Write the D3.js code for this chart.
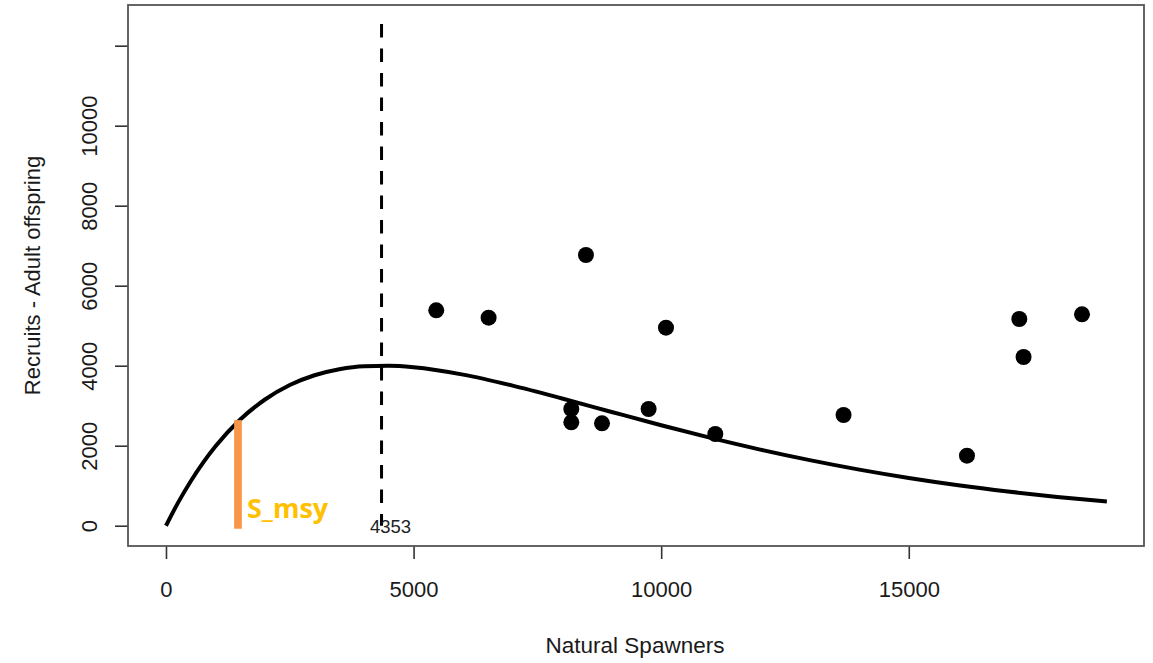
<!DOCTYPE html>
<html>
<head>
<meta charset="utf-8">
<script src="https://cdn.jsdelivr.net/npm/d3@7/dist/d3.min.js"></script>
<style>
  html, body { margin: 0; padding: 0; background: #ffffff; }
  svg { display: block; }
  text { font-family: "Liberation Sans", Arial, sans-serif; }
</style>
</head>
<body>
<svg id="chart" width="1153" height="663"></svg>
<script>
// Observed spawner / recruit pairs
const spawners = [5458, 6515, 8481, 10097, 8185, 8185, 8805, 9746, 11093, 13683, 16175, 17232, 17318, 18498];
const recruits = [5385, 5200, 6768, 4950, 2918, 2585, 2560, 2918, 2293, 2768, 1750, 5168, 4218, 5285];

// Fitted stock-recruit curve, sampled along spawner abundance
const curveSpawners = [0, 250, 500, 750, 1000, 1500, 2000, 2500, 3000, 3500, 4000, 4500, 5000, 6000, 7000,
                       8000, 9000, 10000, 11000, 12000, 13000, 14000, 15000, 16000, 17000, 18000, 19000];
const curveRecruits = [0, 590, 1113, 1577, 1985, 2655, 3155, 3517, 3762, 3913, 3987, 3998, 3961, 3777, 3502,
                       3181, 2844, 2511, 2195, 1903, 1639, 1402, 1194, 1012, 855, 719, 604];

// Reference lines
const sMax = 4353;            // spawners at maximum recruitment
const sMaxLineTop = 12540;
const sMsy = 1454;            // spawners at maximum sustainable yield
const sMsyRecruits = 2640;
const sMsyLabel = "S_msy";

// Axis ticks
const xTicks = [0, 5000, 10000, 15000];
const yTicks = [0, 2000, 4000, 6000, 8000, 10000, 12000];
const yTickLabels = ["0", "2000", "4000", "6000", "8000", "10000", ""];

const xTitle = "Natural Spawners";
const yTitle = "Recruits - Adult offspring";

// Plot region
const box = { left: 128, right: 1144, top: 5, bottom: 546 };
const textColor = "#1a1a1a";

const svg = d3.select("#chart");

const x = d3.scaleLinear().domain([-767, 19750]).range([box.left, box.right]);
const y = d3.scaleLinear().domain([-507, 13017]).range([box.bottom, box.top]);

// Bottom axis
const xAxis = d3.axisBottom(x).tickValues(xTicks).tickSize(13).tickPadding(0)
  .tickFormat(d3.format("d"));
const gx = svg.append("g").attr("transform", `translate(0,${box.bottom})`).call(xAxis);
gx.select(".domain").remove();
gx.selectAll(".tick line").attr("stroke", "#333").attr("stroke-width", 1.6);
gx.selectAll(".tick text").attr("y", 51).attr("dy", null)
  .style("font-size", "22px").style("fill", textColor);

// Left axis
const yAxis = d3.axisLeft(y).tickValues(yTicks).tickSize(13).tickPadding(0)
  .tickFormat((d, i) => yTickLabels[i]);
const gy = svg.append("g").attr("transform", `translate(${box.left},0)`).call(yAxis);
gy.select(".domain").remove();
gy.selectAll(".tick line").attr("stroke", "#333").attr("stroke-width", 1.6);
gy.selectAll(".tick text")
  .attr("x", null).attr("dy", null)
  .attr("text-anchor", "middle")
  .attr("transform", `translate(${97 - box.left},0) rotate(-90)`)
  .style("font-size", "22px").style("fill", textColor);

// Plot frame
svg.append("rect")
  .attr("x", box.left).attr("y", box.top)
  .attr("width", box.right - box.left).attr("height", box.bottom - box.top)
  .attr("fill", "none").attr("stroke", "#555").attr("stroke-width", 1.8);

// Axis titles
svg.append("text")
  .attr("x", 635).attr("y", 653)
  .attr("text-anchor", "middle").style("font-size", "22.5px").style("fill", textColor)
  .text(xTitle);
svg.append("text")
  .attr("transform", `translate(40,${(box.top + box.bottom) / 2}) rotate(-90)`)
  .attr("text-anchor", "middle").style("font-size", "22px").style("fill", textColor)
  .text(yTitle);

// Fitted curve
const curvePts = curveSpawners.map((s, i) => [s, curveRecruits[i]]);
svg.append("path")
  .datum(curvePts)
  .attr("d", d3.line().x(d => x(d[0])).y(d => y(d[1])).curve(d3.curveMonotoneX))
  .attr("fill", "none").attr("stroke", "#000").attr("stroke-width", 4);

// Dashed line at spawners of maximum recruitment
svg.append("line")
  .attr("x1", x(sMax)).attr("x2", x(sMax))
  .attr("y1", y(sMaxLineTop)).attr("y2", y(0))
  .attr("stroke", "#000").attr("stroke-width", 3)
  .attr("stroke-dasharray", "13.3 11.2");
svg.append("text")
  .attr("x", x(sMax) + 9).attr("y", 533)
  .attr("text-anchor", "middle").style("font-size", "18.5px").style("fill", "#222")
  .text(String(sMax));

// Observed points
svg.append("g").selectAll("circle")
  .data(spawners.map((s, i) => [s, recruits[i]]))
  .join("circle")
  .attr("cx", d => x(d[0])).attr("cy", d => y(d[1]))
  .attr("r", 8).attr("fill", "#000");

// S_msy marker
svg.append("line")
  .attr("x1", x(sMsy)).attr("x2", x(sMsy))
  .attr("y1", y(sMsyRecruits)).attr("y2", y(0) + 3)
  .attr("stroke", "#F79646").attr("stroke-width", 7.7);
svg.append("text")
  .attr("x", x(sMsy) + 9).attr("y", 518)
  .style("font-family", "'Open Sans', sans-serif").style("font-weight", "700")
  .style("font-size", "27px").style("fill", "#FFC000")
  .text(sMsyLabel);
</script>
</body>
</html>
